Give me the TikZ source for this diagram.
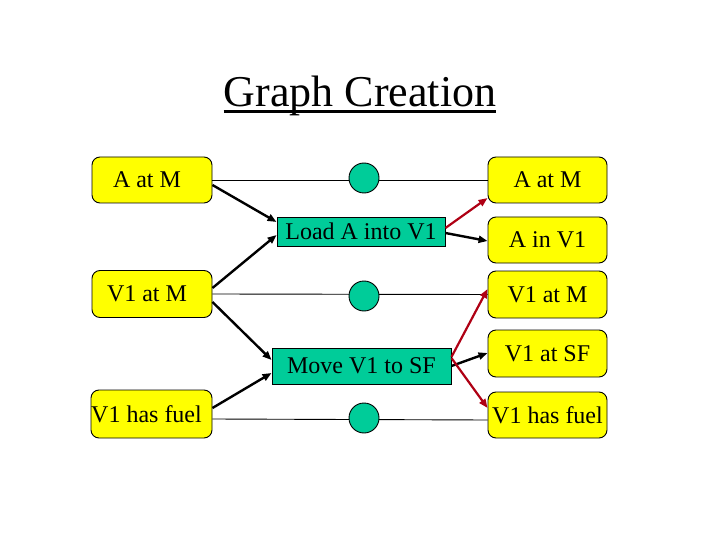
\documentclass[tikz,border=0pt]{standalone}
\usepackage{fontspec}
\setmainfont{Liberation Serif}
\usetikzlibrary{arrows.meta}
\definecolor{boxyellow}{RGB}{255,255,0}
\definecolor{opgreen}{RGB}{0,204,153}
\definecolor{darkred}{RGB}{175,0,20}
\newcommand{\lefttext}[1]{\hspace*{-10pt}#1}
\begin{document}
\begin{tikzpicture}[x=1pt,y=-1pt,
  fact/.style={draw=black,line width=0.9pt,fill=boxyellow,rounded corners=8pt,inner sep=0pt,
    font=\fontsize{24}{28}\selectfont},
  action/.style={draw=black,line width=0.9pt,fill=opgreen,inner sep=0pt,
    font=\fontsize{24}{28}\selectfont},
  noop/.style={circle,draw=black,line width=0.9pt,fill=opgreen,minimum size=30pt,inner sep=0pt},
  plain/.style={line width=0.9pt},
  pre/.style={line width=2.4pt,-{Triangle[length=9pt,width=7pt]}},
  del/.style={line width=2.2pt,draw=darkred,-{Triangle[length=9pt,width=7pt]}}]
\useasboundingbox (0,0) rectangle (720,540);
% title
\node[anchor=base,inner sep=0pt,font=\fontsize{44}{50}\selectfont] (title) at (360,107) {Graph Creation};
\draw[line width=3pt] ([yshift=-5pt]title.base west) -- ([yshift=-5pt]title.base east);
% left facts
\node[fact,minimum width=120pt,minimum height=46pt] (aL) at (152,180) {\lefttext{A at M}};
\node[fact,minimum width=120pt,minimum height=47pt] (vL) at (152,294) {\lefttext{V1 at M}};
\node[fact,minimum width=121pt,minimum height=48pt] (fL) at (151.5,414) {\lefttext{V1 has fuel}};
% right facts
\node[fact,minimum width=119pt,minimum height=46pt] (aR) at (547.5,180) {A at M};
\node[fact,minimum width=119pt,minimum height=46pt] (inR) at (547.5,240) {A in V1};
\node[fact,minimum width=119pt,minimum height=47pt] (vR) at (547.5,294.5) {V1 at M};
\node[fact,minimum width=119pt,minimum height=47pt] (sfR) at (547.5,353.5) {V1 at SF};
\node[fact,minimum width=119pt,minimum height=46pt] (fR) at (547.5,415) {V1 has fuel};
% actions
\node[action,minimum width=168pt,minimum height=29pt] (load) at (361,231.5) {Load A into V1};
\node[action,minimum width=179pt,minimum height=36pt] (move) at (361.5,366) {Move V1 to SF};
% no-op lines
\draw[plain] (aL.east) -- (aR.west);
\draw[plain] (vL.east) -- (vR.west);
\draw[plain] ([yshift=-5pt]fL.east) -- ([yshift=-5pt]fR.west);
\node[noop] (c1) at (364,178) {};
\node[noop] (c2) at (364,296) {};
\node[noop] (c3) at (364,418) {};
% preconditions
\draw[pre] ([yshift=-5pt]aL.east) -- ([yshift=9.5pt]load.west);
\draw[pre] ([yshift=6pt]vL.east) -- ([yshift=-3.5pt]load.west);
\draw[pre] ([yshift=-8pt]vL.east) -- ([yshift=6pt]move.west);
\draw[pre] ([yshift=6pt]fL.east) -- ([yshift=-7pt]move.west);
% effects
\draw[del] ([yshift=3.5pt]load.east) -- ([yshift=-18pt]aR.west);
\draw[pre] ([yshift=-1.5pt]load.east) -- ([yshift=-1pt]inR.west);
\draw[del] ([yshift=9pt]move.east) -- ([yshift=5.5pt]vR.west);
\draw[pre] (move.east) -- ([yshift=0.5pt]sfR.west);
\draw[del] ([yshift=8pt]move.east) -- ([yshift=7pt]fR.west);
\end{tikzpicture}
\end{document}
